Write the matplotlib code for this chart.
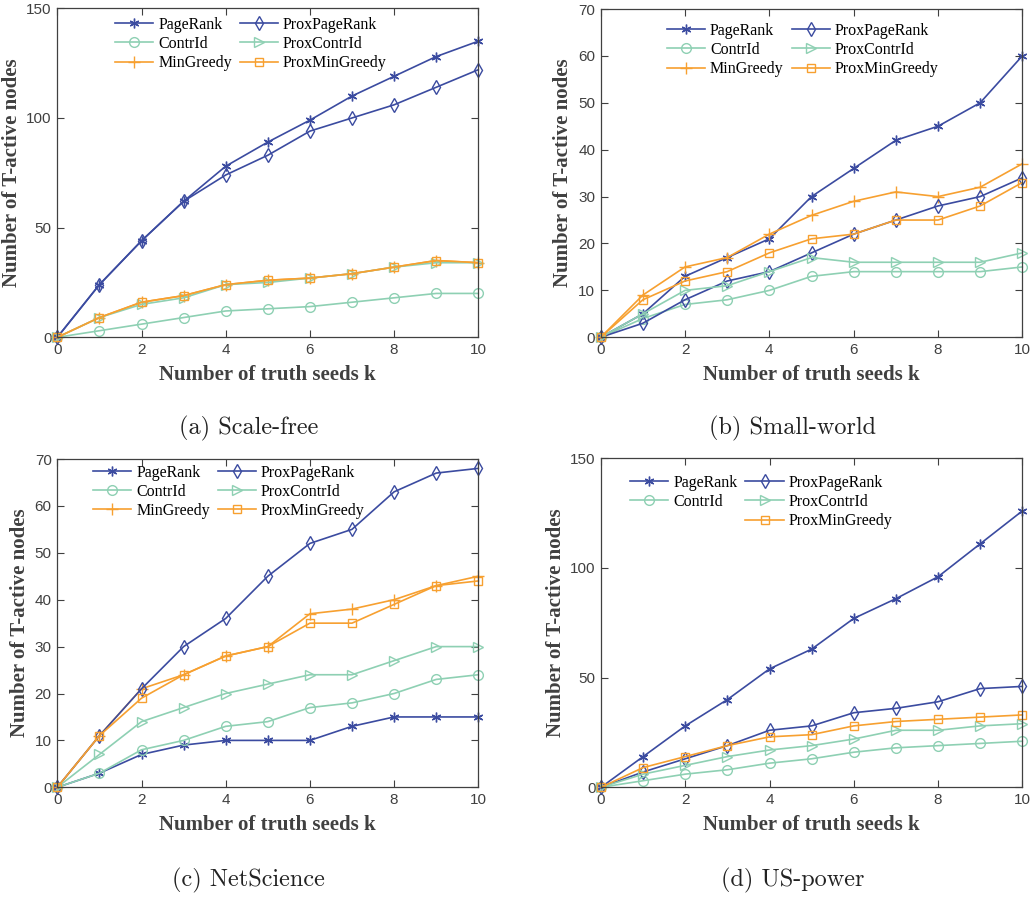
import numpy as np
import matplotlib
matplotlib.use("Agg")
import matplotlib.pyplot as plt
from matplotlib.lines import Line2D

k = np.arange(0, 11)

# (a) Scale-free
sf_pagerank = [0, 24, 44, 62, 78, 89, 99, 110, 119, 128, 135]
sf_contrid = [0, 3, 6, 9, 12, 13, 14, 16, 18, 20, 20]
sf_mingreedy = [0, 9, 16, 19, 24, 26, 27, 29, 32, 35, 34]
sf_proxpagerank = [0, 24, 44, 62, 74, 83, 94, 100, 106, 114, 122]
sf_proxcontrid = [0, 9, 15, 18, 24, 25, 27, 29, 32, 34, 34]
sf_proxmingreedy = [0, 9, 16, 19, 24, 26, 27, 29, 32, 35, 34]

# (b) Small-world
sw_pagerank = [0, 5, 13, 17, 21, 30, 36, 42, 45, 50, 60]
sw_contrid = [0, 4, 7, 8, 10, 13, 14, 14, 14, 14, 15]
sw_mingreedy = [0, 9, 15, 17, 22, 26, 29, 31, 30, 32, 37]
sw_proxpagerank = [0, 3, 8, 12, 14, 18, 22, 25, 28, 30, 34]
sw_proxcontrid = [0, 5, 10, 11, 14, 17, 16, 16, 16, 16, 18]
sw_proxmingreedy = [0, 8, 12, 14, 18, 21, 22, 25, 25, 28, 33]

# (c) NetScience
ns_pagerank = [0, 3, 7, 9, 10, 10, 10, 13, 15, 15, 15]
ns_contrid = [0, 3, 8, 10, 13, 14, 17, 18, 20, 23, 24]
ns_mingreedy = [0, 11, 21, 24, 28, 30, 37, 38, 40, 43, 45]
ns_proxpagerank = [0, 11, 21, 30, 36, 45, 52, 55, 63, 67, 68]
ns_proxcontrid = [0, 7, 14, 17, 20, 22, 24, 24, 27, 30, 30]
ns_proxmingreedy = [0, 11, 19, 24, 28, 30, 35, 35, 39, 43, 44]

# (d) US-power (no MinGreedy curve)
up_pagerank = [0, 14, 28, 40, 54, 63, 77, 86, 96, 111, 126]
up_contrid = [0, 3, 6, 8, 11, 13, 16, 18, 19, 20, 21]
up_mingreedy = None
up_proxpagerank = [0, 7, 13, 19, 26, 28, 34, 36, 39, 45, 46]
up_proxcontrid = [0, 6, 10, 14, 17, 19, 22, 26, 26, 28, 29]
up_proxmingreedy = [0, 9, 14, 19, 23, 24, 28, 30, 31, 32, 33]

names = ["PageRank", "ContrId", "MinGreedy", "ProxPageRank", "ProxContrId", "ProxMinGreedy"]
blue = "#3B4BA0"
green = "#8ED0B3"
orange = "#F7A030"
styles = {
    "PageRank": dict(color=blue, marker=(6, 2, 0), markersize=7),
    "ContrId": dict(color=green, marker="o", markersize=7, mfc="none"),
    "MinGreedy": dict(color=orange, marker="+", markersize=8),
    "ProxPageRank": dict(color=blue, marker="d", markersize=7.5, mfc="none"),
    "ProxContrId": dict(color=green, marker=">", markersize=7, mfc="none"),
    "ProxMinGreedy": dict(color=orange, marker="s", markersize=6, mfc="none"),
}

panels = [
    ("(a) Scale-free", [sf_pagerank, sf_contrid, sf_mingreedy, sf_proxpagerank, sf_proxcontrid, sf_proxmingreedy],
     150, 50, (57.3, 8.3, 478.3, 337.3), (0.137, 0.974), -0.084, 428),
    ("(b) Small-world", [sw_pagerank, sw_contrid, sw_mingreedy, sw_proxpagerank, sw_proxcontrid, sw_proxmingreedy],
     70, 10, (600.7, 9.0, 1022.3, 337.3), (0.157, 0.958), -0.065, 428),
    ("(c) NetScience", [ns_pagerank, ns_contrid, ns_mingreedy, ns_proxpagerank, ns_proxcontrid, ns_proxmingreedy],
     70, 10, (57.3, 459.0, 478.3, 787.3), (0.085, 0.983), -0.065, 880),
    ("(d) US-power", [up_pagerank, up_contrid, up_mingreedy, up_proxpagerank, up_proxcontrid, up_proxmingreedy],
     150, 50, (601.0, 458.3, 1022.3, 787.3), (0.069, 0.95), -0.083, 880),
]

W, H = 1034, 897
fig = plt.figure(figsize=(W / 100, H / 100), dpi=100)
grey = "#404040"

for title, series, ymax, ystep, (x0, y0, x1, y1), leg_xy, ylab_x, cap_y in panels:
    ax = fig.add_axes([x0 / W, 1 - y1 / H, (x1 - x0) / W, (y1 - y0) / H])
    handles = []
    for name, vals in zip(names, series):
        if vals is None:
            # empty slot in the legend (no MinGreedy curve here)
            handles.append(Line2D([], [], alpha=0))
            continue
        ln, = ax.plot(k, vals, linewidth=1.2, label=name, clip_on=False, **styles[name])
        handles.append(ln)
    labels = [h.get_label() if h.get_alpha() != 0 else "" for h in handles]
    ax.set_xlim(0, 10)
    ax.set_ylim(0, ymax)
    ax.set_xticks(range(0, 11, 2))
    ax.set_yticks(range(0, ymax + 1, ystep))
    ax.tick_params(direction="in", top=True, right=True, length=5, width=0.8,
                   colors=grey, labelsize=11, pad=4)
    for lab in ax.get_xticklabels() + ax.get_yticklabels():
        lab.set_fontfamily("Liberation Sans")
    for sp in ax.spines.values():
        sp.set_color(grey)
        sp.set_linewidth(0.9)
    ax.set_xlabel("Number of truth seeds k", fontfamily="Liberation Serif",
                  fontweight="bold", fontsize=15, color=grey)
    ax.set_ylabel("Number of T-active nodes", fontfamily="Liberation Serif",
                  fontweight="bold", fontsize=15, color=grey)
    ax.xaxis.set_label_coords(0.5, -0.085)
    ax.yaxis.set_label_coords(ylab_x, 0.5)
    ax.legend(handles, labels, ncol=2, loc="upper left", bbox_to_anchor=leg_xy,
              frameon=False, borderpad=0, borderaxespad=0, handlelength=2.4,
              handletextpad=0.3, columnspacing=0.5, labelspacing=0.2,
              prop={"family": "Liberation Serif", "size": 11.5})
    fig.text(((x0 + x1) / 2 - 19) / W, 1 - cap_y / H, title, ha="center", va="center",
             fontfamily="cmr10", fontsize=17.5, color="#222222")

fig.savefig("out.png", dpi=100)
